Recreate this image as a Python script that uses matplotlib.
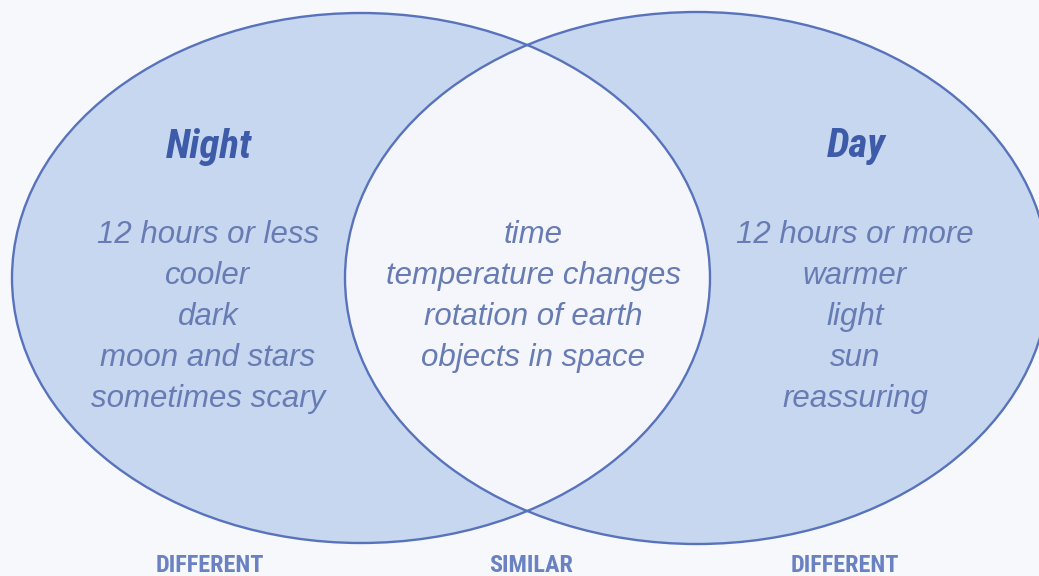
import numpy as np
import matplotlib
matplotlib.use("Agg")
import matplotlib.pyplot as plt
from matplotlib.patches import Ellipse, Rectangle
from matplotlib import font_manager

# ---- data ----
left_title = "Night"
right_title = "Day"
left_items = ["12 hours or less", "cooler", "dark", "moon and stars", "sometimes scary"]
center_items = ["time", "temperature changes", "rotation of earth", "objects in space"]
right_items = ["12 hours or more", "warmer", "light", "sun", "reassuring"]
bottom_labels = ["DIFFERENT", "SIMILAR", "DIFFERENT"]

# ---- fonts ----
def pick(names):
    for n in names:
        try:
            font_manager.findfont(font_manager.FontProperties(family=n), fallback_to_default=False)
            return n
        except Exception:
            pass
    return "DejaVu Sans"

body_font = pick(["Liberation Sans", "Arial", "DejaVu Sans"])
narrow_font = pick(["Liberation Sans Narrow", "Arial Narrow", "Roboto Condensed", "Liberation Sans"])

W, H = 1039, 576
fig = plt.figure(figsize=(W / 100, H / 100), dpi=100)
ax = fig.add_axes([0, 0, 1, 1])
ax.set_xlim(0, W)
ax.set_ylim(H, 0)
ax.axis("off")

bg = "#f6f8fc"
fill = "#c7d7f0"
mid_fill = "#f4f6fb"
edge = "#5873bb"
ax.add_patch(Rectangle((0, 0), W, H, facecolor=bg, edgecolor="none", zorder=0))

eL = dict(xy=(361, 278), width=698, height=530)
eR = dict(xy=(697, 278), width=704, height=532)

ax.add_patch(Ellipse(**eL, facecolor=fill, edgecolor="none", zorder=1))
ax.add_patch(Ellipse(**eR, facecolor=fill, edgecolor="none", zorder=1))
clipL = Ellipse(**eL, facecolor="none", edgecolor="none", transform=ax.transData)
ax.add_patch(clipL)
mid = Ellipse(**eR, facecolor=mid_fill, edgecolor="none", zorder=2)
ax.add_patch(mid)
mid.set_clip_path(clipL)
ax.add_patch(Ellipse(**eL, facecolor="none", edgecolor=edge, lw=1.7, zorder=3))
ax.add_patch(Ellipse(**eR, facecolor="none", edgecolor=edge, lw=1.7, zorder=3))

title_color = "#3d5ba8"
item_color = "#687cb4"
label_color = "#6a82c2"

ax.text(209, 158, left_title, ha="center", va="baseline", fontsize=29.5, fontweight="bold",
        style="italic", family=narrow_font, color=title_color, zorder=4)
ax.text(856, 157, right_title, ha="center", va="baseline", fontsize=29.5, fontweight="bold",
        style="italic", family=narrow_font, color=title_color, zorder=4)

y0, dy = 243, 41.0
fs = 22.5
for i, s in enumerate(left_items):
    ax.text(208, y0 + i * dy, s, ha="center", va="baseline", fontsize=fs, style="italic",
            family=body_font, color=item_color, zorder=4)
for i, s in enumerate(center_items):
    ax.text(533, y0 + i * dy, s, ha="center", va="baseline", fontsize=fs, style="italic",
            family=body_font, color=item_color, zorder=4)
for i, s in enumerate(right_items):
    ax.text(855, y0 + i * dy, s, ha="center", va="baseline", fontsize=fs, style="italic",
            family=body_font, color=item_color, zorder=4)

for x, s in zip([210, 531, 845], bottom_labels):
    ax.text(x, 572, s, ha="center", va="baseline", fontsize=17.5, fontweight="bold",
            family=narrow_font, color=label_color, zorder=4)

fig.savefig("out.png", dpi=100)
